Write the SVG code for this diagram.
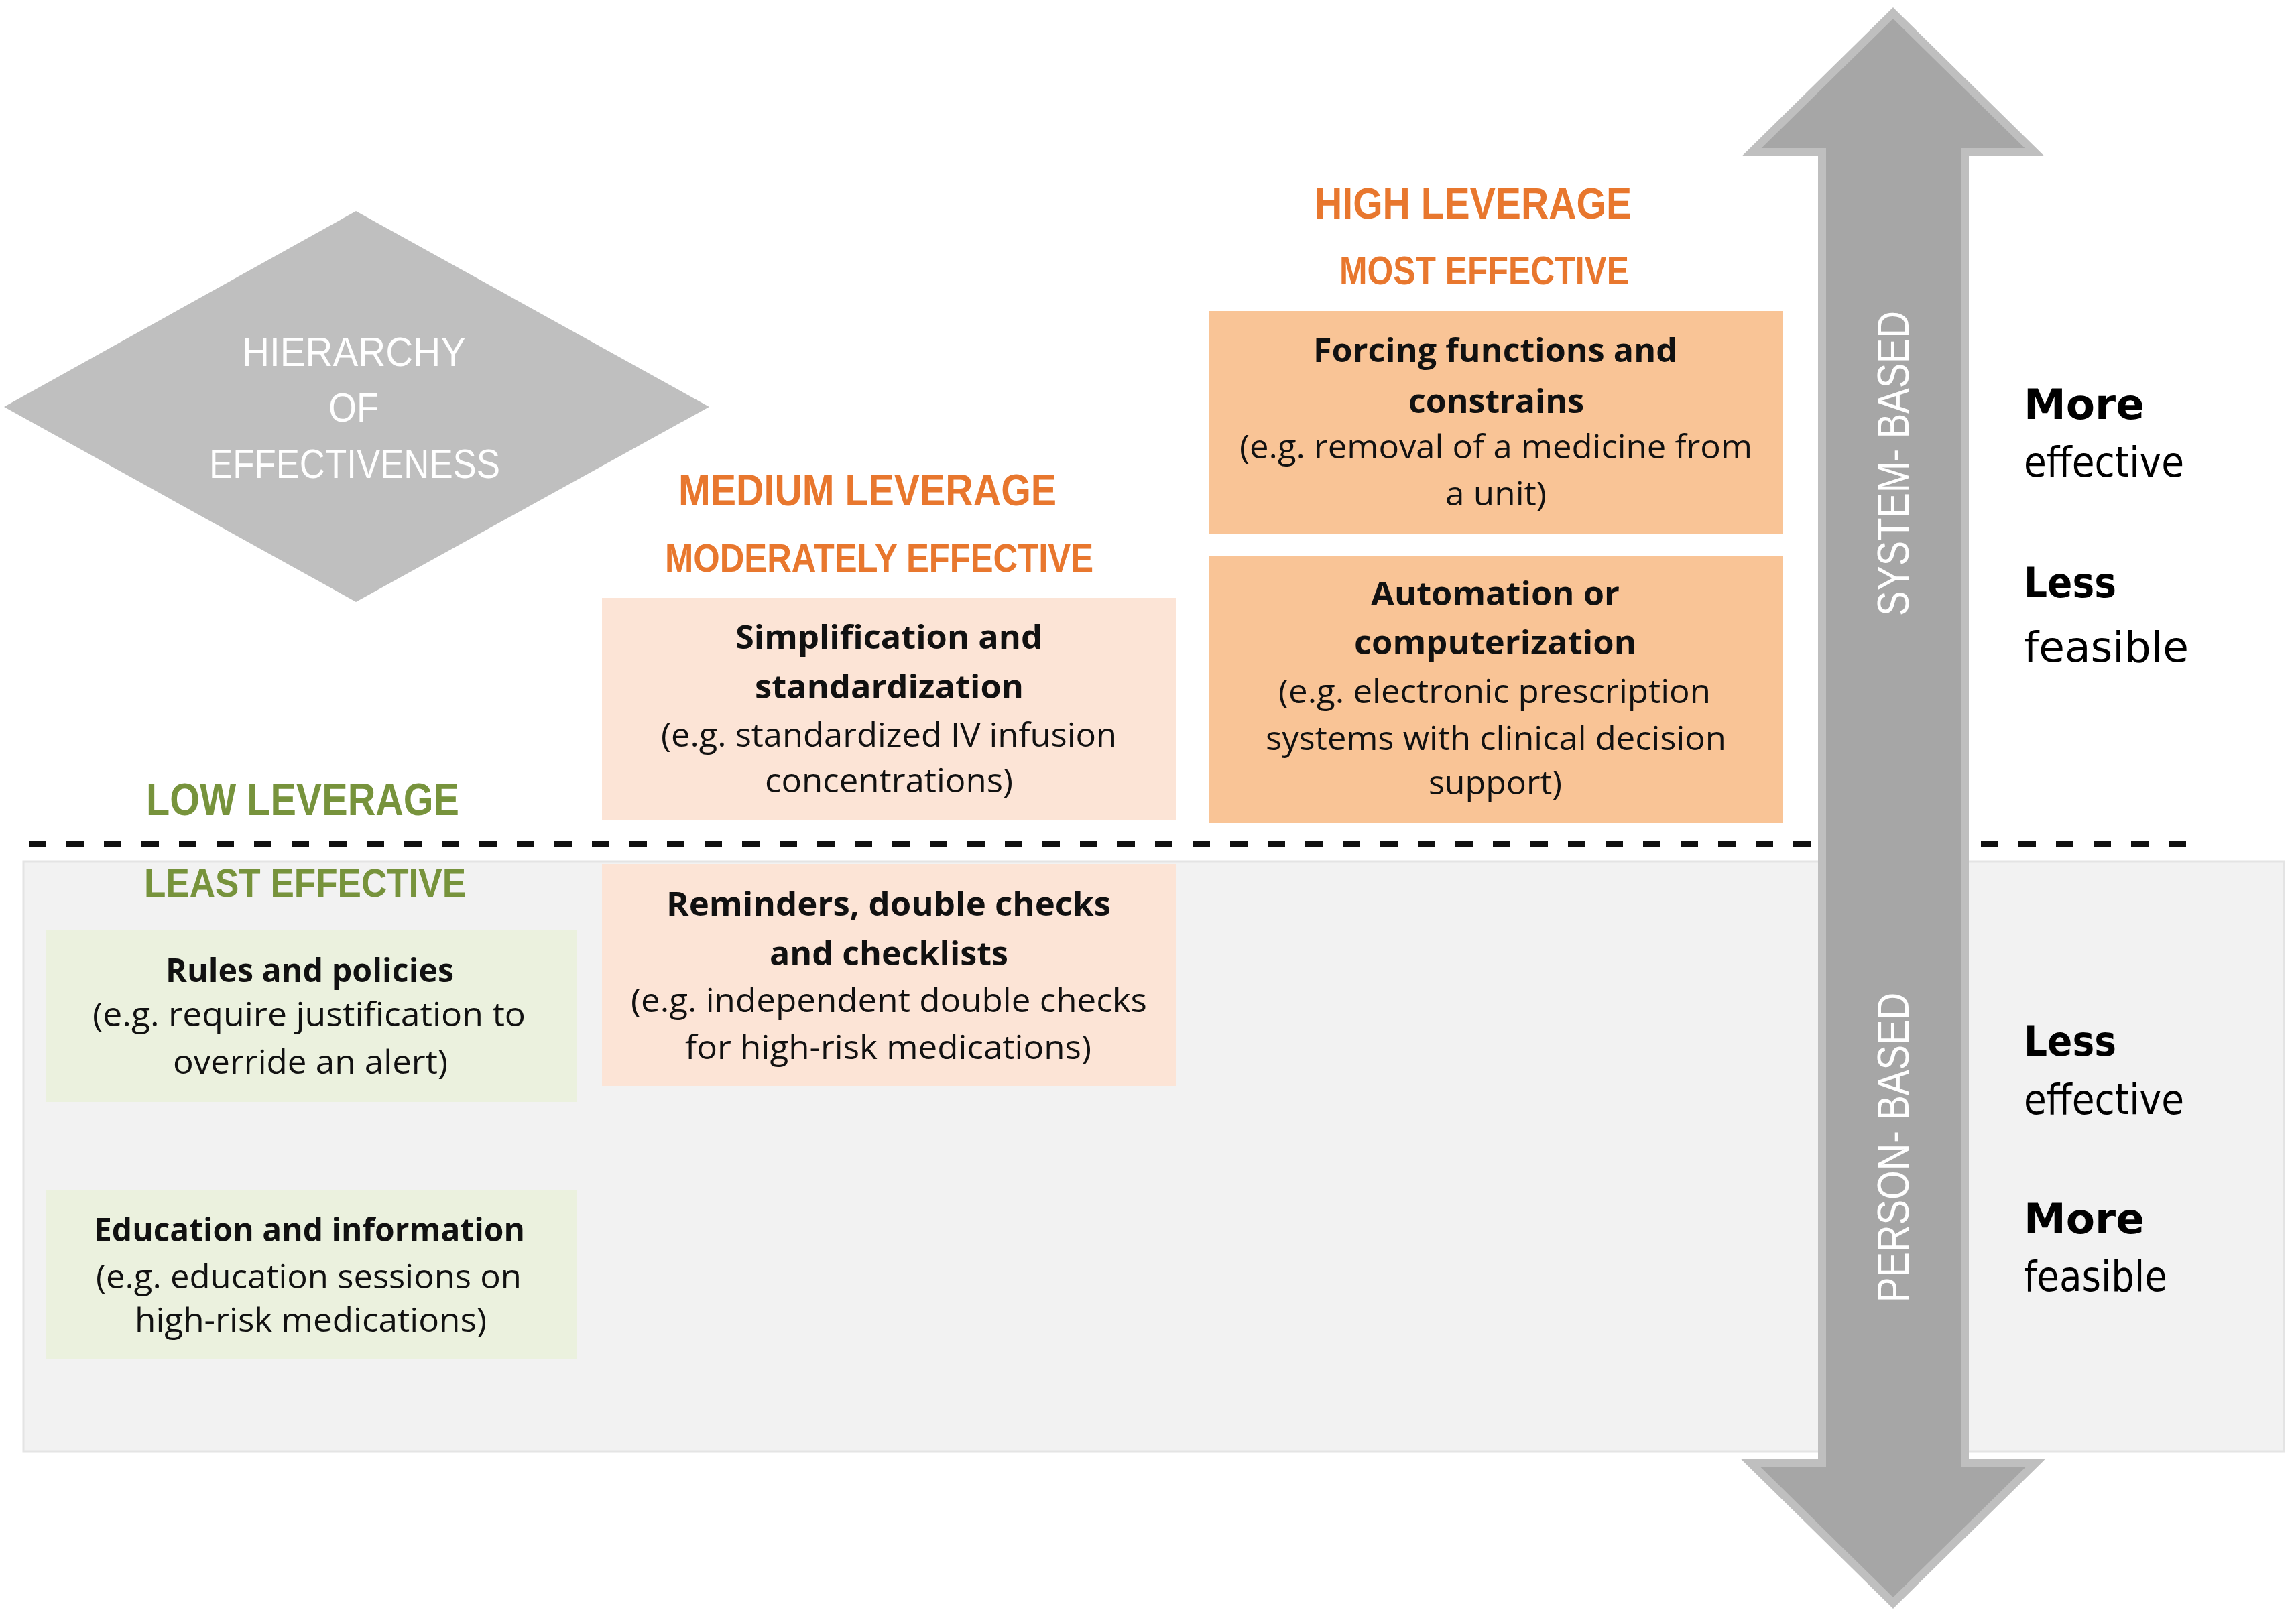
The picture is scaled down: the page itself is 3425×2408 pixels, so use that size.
<svg xmlns="http://www.w3.org/2000/svg" width="3425" height="2408" viewBox="0 0 3425 2408">
<style>
  .hdr { font-family: "Liberation Sans", Arial, sans-serif; font-weight: bold; }
  .orange { fill: #E8772E; }
  .green { fill: #77933C; }
  .cond { font-family: "Liberation Sans", Arial, sans-serif; fill: #ffffff; }
  .bx { font-family: "Open Sans", "Liberation Sans", sans-serif; font-size: 49px; fill: #111111; }
  .b { font-weight: bold; }
  .side { font-family: "DejaVu Sans", "Liberation Sans", sans-serif; fill: #000000; }
  .peach { fill: #FCE4D6; }
  .orangebox { fill: #F9C496; }
  .greenbox { fill: #EBF1DE; }
</style>
<rect x="0" y="0" width="3425" height="2408" fill="#ffffff"/>

<g id="person-panel">
  <rect x="35" y="1285" width="3372" height="881" fill="#F2F2F2" stroke="#E4E4E4" stroke-width="3"/>
</g>

<g id="connectors">
  <line x1="43" y1="1259" x2="3270" y2="1259" stroke="#111111" stroke-width="8" stroke-dasharray="26 30"/>
</g>

<g id="hierarchy-diamond">
  <polygon points="531,315 1058,607 531,898 6,607" fill="#BFBFBF"/>
  <text class="cond" font-size="62" x="361" y="546" textLength="334" lengthAdjust="spacingAndGlyphs">HIERARCHY</text>
  <text class="cond" font-size="62" x="490" y="629" textLength="75" lengthAdjust="spacingAndGlyphs">OF</text>
  <text class="cond" font-size="62" x="312" y="713" textLength="434" lengthAdjust="spacingAndGlyphs">EFFECTIVENESS</text>
</g>

<g id="high-leverage-label">
  <text class="hdr orange" font-size="64" x="1961" y="326" textLength="473" lengthAdjust="spacingAndGlyphs">HIGH LEVERAGE</text>
  <text class="hdr orange" font-size="59" x="1998" y="424" textLength="432" lengthAdjust="spacingAndGlyphs">MOST EFFECTIVE</text>
</g>

<g id="medium-leverage-label">
  <text class="hdr orange" font-size="67" x="1012" y="754" textLength="564" lengthAdjust="spacingAndGlyphs">MEDIUM LEVERAGE</text>
  <text class="hdr orange" font-size="59" x="992" y="853" textLength="639" lengthAdjust="spacingAndGlyphs">MODERATELY EFFECTIVE</text>
</g>

<g id="low-leverage-label">
  <text class="hdr green" font-size="68" x="218" y="1216" textLength="467" lengthAdjust="spacingAndGlyphs">LOW LEVERAGE</text>
  <text class="hdr green" font-size="59" x="215" y="1338" textLength="480" lengthAdjust="spacingAndGlyphs">LEAST EFFECTIVE</text>
</g>

<g id="forcing-functions">
  <rect class="orangebox" x="1804" y="464" width="856" height="332"/>
  <text class="bx b" x="1959" y="540" textLength="543" lengthAdjust="spacingAndGlyphs">Forcing functions and</text>
  <text class="bx b" x="2101" y="616" textLength="262" lengthAdjust="spacingAndGlyphs">constrains</text>
  <text class="bx" x="1849" y="684" textLength="765" lengthAdjust="spacingAndGlyphs">(e.g. removal of a medicine from</text>
  <text class="bx" x="2156" y="754" textLength="151" lengthAdjust="spacingAndGlyphs">a unit)</text>
</g>

<g id="automation">
  <rect class="orangebox" x="1804" y="829" width="856" height="399"/>
  <text class="bx b" x="2045" y="903" textLength="371" lengthAdjust="spacingAndGlyphs">Automation or</text>
  <text class="bx b" x="2020" y="976" textLength="421" lengthAdjust="spacingAndGlyphs">computerization</text>
  <text class="bx" x="1907" y="1049" textLength="645" lengthAdjust="spacingAndGlyphs">(e.g. electronic prescription</text>
  <text class="bx" x="1888" y="1119" textLength="687" lengthAdjust="spacingAndGlyphs">systems with clinical decision</text>
  <text class="bx" x="2131" y="1185" textLength="199" lengthAdjust="spacingAndGlyphs">support)</text>
</g>

<g id="simplification">
  <rect class="peach" x="898" y="892" width="856" height="332"/>
  <text class="bx b" x="1097" y="968" textLength="458" lengthAdjust="spacingAndGlyphs">Simplification and</text>
  <text class="bx b" x="1126" y="1042" textLength="401" lengthAdjust="spacingAndGlyphs">standardization</text>
  <text class="bx" x="986" y="1114" textLength="680" lengthAdjust="spacingAndGlyphs">(e.g. standardized IV infusion</text>
  <text class="bx" x="1141" y="1182" textLength="370" lengthAdjust="spacingAndGlyphs">concentrations)</text>
</g>

<g id="reminders">
  <rect class="peach" x="898" y="1289" width="857" height="331"/>
  <text class="bx b" x="994" y="1366" textLength="663" lengthAdjust="spacingAndGlyphs">Reminders, double checks</text>
  <text class="bx b" x="1148" y="1440" textLength="356" lengthAdjust="spacingAndGlyphs">and checklists</text>
  <text class="bx" x="941" y="1510" textLength="770" lengthAdjust="spacingAndGlyphs">(e.g. independent double checks</text>
  <text class="bx" x="1022" y="1580" textLength="606" lengthAdjust="spacingAndGlyphs">for high-risk medications)</text>
</g>

<g id="rules-policies">
  <rect class="greenbox" x="69" y="1388" width="792" height="256"/>
  <text class="bx b" x="247" y="1465" textLength="430" lengthAdjust="spacingAndGlyphs">Rules and policies</text>
  <text class="bx" x="138" y="1531" textLength="646" lengthAdjust="spacingAndGlyphs">(e.g. require justification to</text>
  <text class="bx" x="258" y="1602" textLength="410" lengthAdjust="spacingAndGlyphs">override an alert)</text>
</g>

<g id="education-information">
  <rect class="greenbox" x="69" y="1775" width="792" height="252"/>
  <text class="bx b" x="140" y="1852" textLength="643" lengthAdjust="spacingAndGlyphs">Education and information</text>
  <text class="bx" x="143" y="1922" textLength="635" lengthAdjust="spacingAndGlyphs">(e.g. education sessions on</text>
  <text class="bx" x="201" y="1987" textLength="525" lengthAdjust="spacingAndGlyphs">high-risk medications)</text>
</g>

<g id="system-person-arrow">
  <polygon points="2824,19.5 3035,227 2931,227 2931,2183 3036,2183 2824,2391.5 2612,2183 2718,2183 2718,227 2613,227" fill="#A6A6A6" stroke="#BFBFBF" stroke-width="12" stroke-linejoin="miter"/>
  <text class="cond" font-size="66" transform="translate(2847,919) rotate(-90)" x="0" y="0" textLength="455" lengthAdjust="spacingAndGlyphs">SYSTEM- BASED</text>
  <text class="cond" font-size="66" transform="translate(2847,1943) rotate(-90)" x="0" y="0" textLength="462" lengthAdjust="spacingAndGlyphs">PERSON- BASED</text>
</g>

<g id="system-side-labels">
  <text class="side b" font-size="63" x="3019" y="625" textLength="180" lengthAdjust="spacingAndGlyphs">More</text>
  <text class="side" font-size="63" x="3019" y="711" textLength="239" lengthAdjust="spacingAndGlyphs">effective</text>
  <text class="side b" font-size="63" x="3019" y="891" textLength="138" lengthAdjust="spacingAndGlyphs">Less</text>
  <text class="side" font-size="63" x="3019" y="987" textLength="246" lengthAdjust="spacingAndGlyphs">feasible</text>
</g>

<g id="person-side-labels">
  <text class="side b" font-size="63" x="3019" y="1575" textLength="138" lengthAdjust="spacingAndGlyphs">Less</text>
  <text class="side" font-size="63" x="3019" y="1662" textLength="239" lengthAdjust="spacingAndGlyphs">effective</text>
  <text class="side b" font-size="63" x="3019" y="1840" textLength="180" lengthAdjust="spacingAndGlyphs">More</text>
  <text class="side" font-size="63" x="3019" y="1926" textLength="214" lengthAdjust="spacingAndGlyphs">feasible</text>
</g>
</svg>
